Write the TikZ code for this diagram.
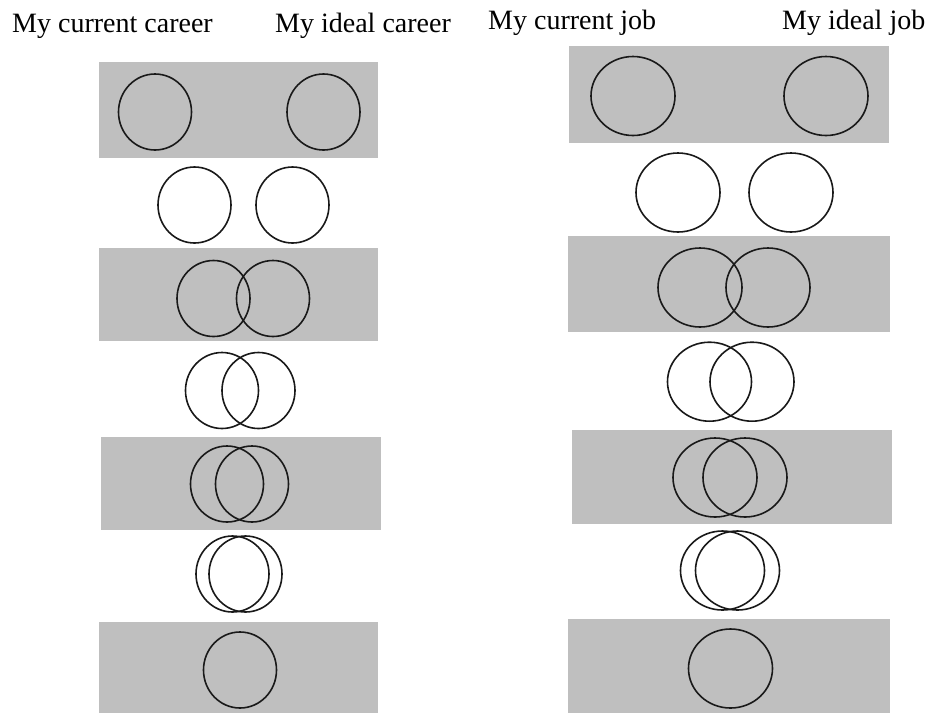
\documentclass[tikz,border=0pt]{standalone}
\usepackage{fontspec}
\setmainfont{Liberation Serif}
\usetikzlibrary{shapes.geometric}
\definecolor{band}{RGB}{191,191,191}
\definecolor{ring}{RGB}{25,25,25}
\tikzset{
  bandbox/.style={fill=band, draw=none},
  lring/.style={ellipse, draw=ring, line width=1.6pt, inner sep=0pt, minimum width=73pt, minimum height=76pt},
  rring/.style={ellipse, draw=ring, line width=1.6pt, inner sep=0pt, minimum width=84pt, minimum height=79pt},
  title/.style={anchor=base west, inner sep=0pt, font=\fontsize{28}{34}\selectfont}
}
\begin{document}
\begin{tikzpicture}[x=1pt,y=-1pt]
\useasboundingbox (0,0) rectangle (938,713);
% titles
\node[title] (t1) at (12,32) {My current career};
\node[title] (t2) at (275,32) {My ideal career};
\node[title] (t3) at (488,29) {My current job};
\node[title] (t4) at (782,29) {My ideal job};
% left bands
\fill[bandbox] (99,62) rectangle (378,158);
\fill[bandbox] (99,248) rectangle (378,341);
\fill[bandbox] (101,437) rectangle (381,530);
\fill[bandbox] (99,622) rectangle (378,713);
% right bands
\fill[bandbox] (569,46) rectangle (889,143);
\fill[bandbox] (568,236) rectangle (890,332);
\fill[bandbox] (572,430) rectangle (892,524);
\fill[bandbox] (568,619) rectangle (890,713);
% left rings
\node[lring] (l1a) at (155,112) {};
\node[lring] (l1b) at (323.5,112) {};
\node[lring] (l2a) at (194.5,205) {};
\node[lring] (l2b) at (292.5,205) {};
\node[lring] (l3a) at (213.5,298.5) {};
\node[lring] (l3b) at (273,298.5) {};
\node[lring] (l4a) at (222,390.5) {};
\node[lring] (l4b) at (258.5,390.5) {};
\node[lring] (l5a) at (227,484) {};
\node[lring] (l5b) at (252,484) {};
\node[lring] (l6a) at (232.5,574) {};
\node[lring] (l6b) at (245.5,574) {};
\node[lring] (l7) at (240,670) {};
% right rings
\node[rring] (r1a) at (633,96) {};
\node[rring] (r1b) at (826,96) {};
\node[rring] (r2a) at (678,192.5) {};
\node[rring] (r2b) at (791,192.5) {};
\node[rring] (r3a) at (700,287.5) {};
\node[rring] (r3b) at (768,287.5) {};
\node[rring] (r4a) at (709.5,381.7) {};
\node[rring] (r4b) at (752,381.7) {};
\node[rring] (r5a) at (715,477.5) {};
\node[rring] (r5b) at (745,477.5) {};
\node[rring] (r6a) at (722.5,570.5) {};
\node[rring] (r6b) at (737.5,570.5) {};
\node[rring] (r7) at (730.5,668.5) {};
\end{tikzpicture}
\end{document}
